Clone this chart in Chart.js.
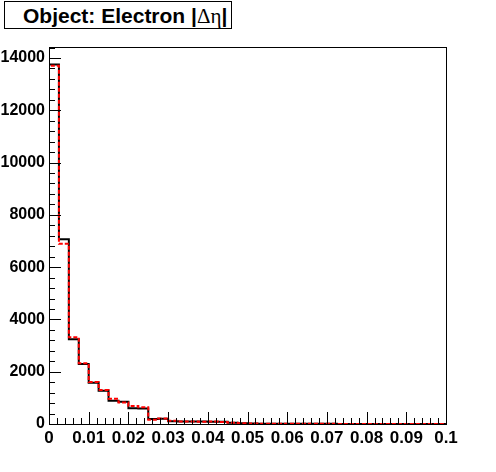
<!DOCTYPE html>
<html>
<head>
<meta charset="utf-8">
<script src="https://cdn.jsdelivr.net/npm/chart.js@4.4.1/dist/chart.umd.min.js"></script>
<style>
  html, body { margin: 0; padding: 0; background: #fff; }
  #wrap { position: relative; width: 496px; height: 472px; }
  #title {
    position: absolute; left: 4px; top: 1px; width: 226px; height: 26px;
    border: 1px solid #000; background: #fff;
  }
  #title span.t {
    position: absolute; left: 18px; top: 1px; line-height: 26px;
    font-family: "Liberation Sans", Arial, sans-serif; font-weight: bold; font-size: 21px;
    color: #000; white-space: nowrap;
  }
  #title .sym { font-family: "Liberation Serif", "DejaVu Serif", serif; font-weight: normal; }
  canvas { position: absolute; left: 0; top: 0; }
</style>
</head>
<body>
<div id="wrap">
  <canvas id="c" width="496" height="472"></canvas>
  <div id="title"><span class="t">Object: Electron |<span class="sym">Δη</span>|</span></div>
</div>
<script>
// Histogram: |Δη| of electrons, 40 bins from 0 to 0.1
const binWidth = 0.0025;
const nBins = 40;
const seriesBlack = [13755, 7063, 3239, 2294, 1580, 1275, 892, 854, 600, 590,
                     190, 204, 102, 95, 100, 95, 90, 90, 45, 25,
                     15, 12, 10, 8, 8, 6, 6, 5, 5, 4,
                     4, 4, 3, 3, 3, 2, 2, 2, 2, 2];
const seriesRed = [13700, 6890, 3315, 2320, 1606, 1300, 969, 820, 688, 637,
                   160, 210, 127, 100, 100, 90, 95, 80, 45, 25,
                   15, 12, 10, 8, 8, 6, 6, 5, 5, 4,
                   4, 4, 3, 3, 3, 2, 2, 2, 2, 2];
const xTickValues = [0, 0.01, 0.02, 0.03, 0.04, 0.05, 0.06, 0.07, 0.08, 0.09, 0.1];
const yTickValues = [0, 2000, 4000, 6000, 8000, 10000, 12000, 14000];
const xMax = 0.1, yMax = 14420;

function stepPoints(vals) {
  const pts = [{x: 0, y: 0}];
  for (let i = 0; i < vals.length; i++) pts.push({x: i * binWidth, y: vals[i]});
  pts.push({x: nBins * binWidth, y: vals[vals.length - 1]});
  pts.push({x: nBins * binWidth, y: 0});
  return pts;
}

const xTickFont = {family: '"Liberation Sans", Arial, sans-serif', weight: 'bold', size: 17};
const yTickFont = {family: '"Liberation Sans", Arial, sans-serif', weight: 'bold', size: 16};

const framePlugin = {
  id: 'frame',
  afterDatasetsDraw(chart) {
    const ctx = chart.ctx, a = chart.chartArea;
    const xs = chart.scales.x, ys = chart.scales.y;
    ctx.save();
    ctx.strokeStyle = '#000';
    ctx.lineWidth = 1;
    ctx.strokeRect(Math.round(a.left) + 0.5, Math.round(a.top) + 0.5,
                   Math.round(a.right - a.left), Math.round(a.bottom - a.top));
    ctx.beginPath();
    for (let k = 0; k <= 50; k++) {
      const v = k * 0.002;
      const px = Math.round(xs.getPixelForValue(v)) + 0.5;
      const len = (k % 5 === 0) ? 12 : 6;
      ctx.moveTo(px, a.bottom);
      ctx.lineTo(px, a.bottom - len);
    }
    for (let v = 0; v <= yMax; v += 400) {
      const py = Math.round(ys.getPixelForValue(v)) + 0.5;
      const len = (v % 2000 === 0) ? 12 : 6;
      ctx.moveTo(a.left, py);
      ctx.lineTo(a.left + len, py);
    }
    ctx.stroke();
    ctx.restore();
  }
};

new Chart(document.getElementById('c'), {
  type: 'line',
  data: {
    datasets: [
      {
        data: stepPoints(seriesBlack),
        borderColor: '#000', borderWidth: 2, stepped: 'before',
        pointRadius: 0, fill: false, order: 2
      },
      {
        data: stepPoints(seriesRed),
        borderColor: '#ff0000', borderWidth: 2, stepped: 'before', borderDash: [4, 2],
        pointRadius: 0, fill: false, order: 1
      }
    ]
  },
  options: {
    responsive: false,
    animation: false,
    devicePixelRatio: 1,
    layout: {padding: {top: 47, right: 50, left: 0, bottom: 0}},
    plugins: {legend: {display: false}, tooltip: {enabled: false}},
    scales: {
      x: {
        type: 'linear', min: 0, max: xMax,
        grid: {display: false, drawTicks: false}, border: {display: false},
        afterBuildTicks(s) { s.ticks = xTickValues.map(v => ({value: v})); },
        afterFit(s) { s.height = 48; },
        ticks: {
          color: '#000', font: xTickFont, maxRotation: 0, autoSkip: false, padding: 4,
          callback: v => String(parseFloat(Number(v).toFixed(3)))
        }
      },
      y: {
        type: 'linear', min: 0, max: yMax,
        grid: {display: false, drawTicks: false}, border: {display: false},
        afterBuildTicks(s) { s.ticks = yTickValues.map(v => ({value: v})); },
        afterFit(s) { s.width = 49; },
        ticks: {color: '#000', font: yTickFont, padding: 4, callback: v => String(v)}
      }
    }
  },
  plugins: [framePlugin]
});
</script>
</body>
</html>
